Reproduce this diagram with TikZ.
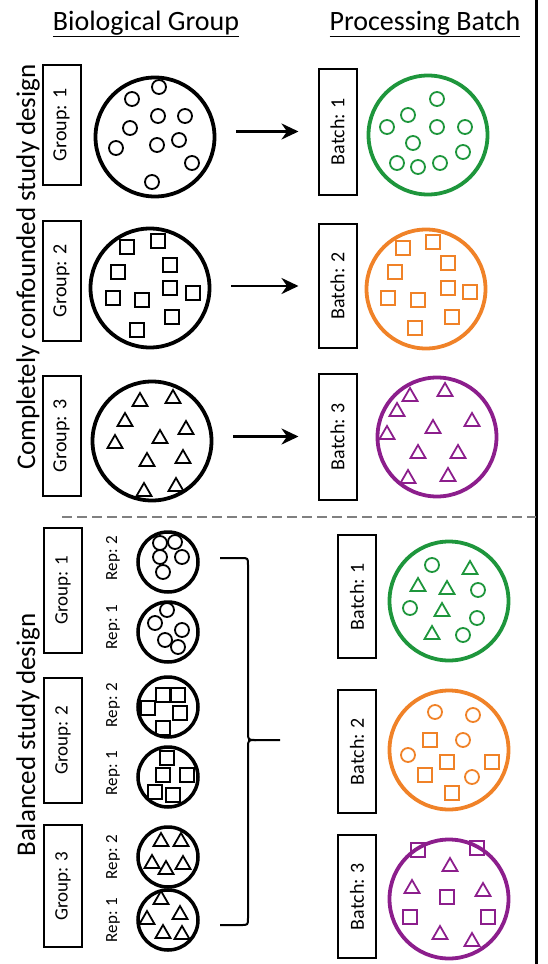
\documentclass[tikz,border=0pt]{standalone}
\usepackage{fontspec}
\setmainfont{Carlito}
\usetikzlibrary{arrows.meta}
\definecolor{dishgreen}{RGB}{30,150,60}
\definecolor{dishorange}{RGB}{240,130,40}
\definecolor{dishpurple}{RGB}{140,30,140}

\begin{document}
\begin{tikzpicture}[x=1pt,y=-1pt,>={Stealth[length=17pt,width=16pt]},
    labelbox/.style={draw,line width=2pt,rotate=90,inner sep=0pt,minimum height=38pt,font=\fontsize{20}{20}\selectfont},
    replabel/.style={rotate=90,inner sep=0pt,font=\fontsize{17}{17}\selectfont},
    bigdish/.style={draw,circle,line width=3.8pt,minimum size=119pt,inner sep=0pt},
    smalldish/.style={draw,circle,line width=3.5pt,minimum size=60pt,inner sep=0pt},
    item/.style={line width=1.8pt}]
    \useasboundingbox (0,0) rectangle (548,964);
    \draw[line width=3pt] (536,0) -- (536,964);
    \node[font=\fontsize{28}{28}\selectfont] (biotitle) at (146,24) {\underline{Biological Group}};
    \node[font=\fontsize{28}{28}\selectfont] (proctitle) at (425,24) {\underline{Processing Batch}};
    \node[rotate=90,font=\fontsize{27}{27}\selectfont] (confdesign) at (28,267) {Completely confounded study design};
    \node[rotate=90,font=\fontsize{27}{27}\selectfont] (baldesign) at (28,735) {Balanced study design};

    \node[labelbox,minimum width=120pt] (G1) at (61.5,125) {Group: 1};
    \node[labelbox,minimum width=120pt] (G2) at (61.5,281) {Group: 2};
    \node[labelbox,minimum width=120pt] (G3) at (61.5,436) {Group: 3};
    \node[bigdish] (g1) at (155,137) {};
    \node[bigdish] (g2) at (150,288) {};
    \node[bigdish] (g3) at (152,441) {};
    \node[labelbox,minimum width=126pt] (B1) at (337.5,131.5) {Batch: 1};
    \node[labelbox,minimum width=124pt] (B2) at (337.5,286) {Batch: 2};
    \node[labelbox,minimum width=126pt] (B3) at (337.5,436.5) {Batch: 3};
    \node[bigdish,draw=dishgreen] (b1) at (428,135) {};
    \node[bigdish,draw=dishorange] (b2) at (426,289) {};
    \node[bigdish,draw=dishpurple] (b3) at (437,437) {};
    \draw[->,line width=2.8pt,shorten <=20pt,shorten >=19pt] (g1.east |- B1.north) -- (B1.north);
    \draw[->,line width=2.8pt,shorten <=20pt,shorten >=19pt] (g2.east |- B2.north) -- (B2.north);
    \draw[->,line width=2.8pt,shorten <=20pt,shorten >=19pt] (g3.east |- B3.north) -- (B3.north);

    \foreach \x/\y in {159/87,132/99,158/116,185/116,130/128,179/140,157/145,116/148,192/163,152/182}
        \draw[item] (\x,\y) circle (7pt);
    \foreach \x/\y in {127/247,158/241,118/272,170/265,170/288,193/293,113/298,142/300,172/317,137/330}
        \draw[item] (\x-7,\y-7) rectangle ++(14,14);
    \foreach \x/\y in {140/400,173/397,125/420,186/428,115/442,160/437,183/457,147/460,144/490,176/485}
        \draw[item] (\x,\y-7) -- (\x+7.5,\y+6) -- (\x-7.5,\y+6) -- cycle;
    \foreach \x/\y in {437/99,408/115,437/127,465/127,387/127,413/143,397/163,418/167,440/163,463/152}
        \draw[item,dishgreen] (\x,\y) circle (7pt);
    \foreach \x/\y in {403/248,433/242,395/272,448/263,448/288,470/292,388/298,418/300,452/317,415/328}
        \draw[item,dishorange] (\x-7,\y-7) rectangle ++(14,14);
    \foreach \x/\y in {410/395,445/390,397/410,472/420,387/433,433/427,418/452,458/452,408/477,448/475}
        \draw[item,dishpurple] (\x,\y-7) -- (\x+7.5,\y+6) -- (\x-7.5,\y+6) -- cycle;

    \draw[gray,line width=2pt,dash pattern=on 10pt off 5pt] (62,517) -- (536,517);

    \node[labelbox,minimum width=125pt,font=\fontsize{19}{19}\selectfont] (H1) at (63,590.5) {Group: 1};
    \node[labelbox,minimum width=125pt,font=\fontsize{19}{19}\selectfont] (H2) at (63,740.5) {Group: 2};
    \node[labelbox,minimum width=122pt,font=\fontsize{19}{19}\selectfont] (H3) at (63,886) {Group: 3};
    \node[replabel] (rep12) at (113,558) {Rep: 2};
    \node[replabel] (rep11) at (113,627) {Rep: 1};
    \node[replabel] (rep22) at (113,705) {Rep: 2};
    \node[replabel] (rep21) at (113,773) {Rep: 1};
    \node[replabel] (rep32) at (113,857) {Rep: 2};
    \node[replabel] (rep31) at (113,920) {Rep: 1};
    \node[smalldish] (s12) at (168,562) {};
    \node[smalldish] (s11) at (168,632) {};
    \node[smalldish] (s22) at (168,707) {};
    \node[smalldish] (s21) at (168,777) {};
    \node[smalldish] (s32) at (168,857) {};
    \node[smalldish] (s31) at (168,920) {};
    \foreach \x/\y in {160/543,175/542,160/557,182/557,163/572,167/610,155/623,182/630,165/640,178/647}
        \draw[item] (\x,\y) circle (7pt);
    \foreach \x/\y in {163/695,178/695,148/708,180/713,163/728,167/758,163/775,187/775,155/792,173/795}
        \draw[item] (\x-7,\y-7) rectangle ++(14,14);
    \foreach \x/\y in {161/840,181/840,152/862,166/868,183/863,161/898,147/918,180/913,163/932,182/933}
        \draw[item] (\x,\y-7) -- (\x+7.5,\y+6) -- (\x-7.5,\y+6) -- cycle;

    \coordinate (brtop) at (220,558);
    \coordinate (brbot) at (220,925);
    \coordinate (brtip) at (280,740);
    \draw[line width=2pt] (brtop) -- (241,558) .. controls (248,558) .. (248,565) -- (248,732)
        .. controls (248,740) .. (256,740) -- (brtip);
    \draw[line width=2pt] (brbot) -- (241,925) .. controls (248,925) .. (248,918) -- (248,748)
        .. controls (248,740) .. (256,740);

    \node[labelbox,minimum width=123pt] (C1) at (357,596.5) {Batch: 1};
    \node[labelbox,minimum width=123pt] (C2) at (357,751.5) {Batch: 2};
    \node[labelbox,minimum width=123pt] (C3) at (357,896.5) {Batch: 3};
    \node[bigdish,draw=dishgreen] (c1) at (449,601) {};
    \node[bigdish,draw=dishorange] (c2) at (449,750) {};
    \node[bigdish,draw=dishpurple] (c3) at (449,899) {};
    \foreach \x/\y in {432/565,478/590,410/608,477/618,463/635}
        \draw[item,dishgreen] (\x,\y) circle (7pt);
    \foreach \x/\y in {470/568,418/585,447/588,442/610,432/633}
        \draw[item,dishgreen] (\x,\y-7) -- (\x+7.5,\y+6) -- (\x-7.5,\y+6) -- cycle;
    \foreach \x/\y in {435/712,473/715,463/740,408/755,472/777}
        \draw[item,dishorange] (\x,\y) circle (7pt);
    \foreach \x/\y in {430/740,447/762,492/762,425/775,452/793}
        \draw[item,dishorange] (\x-7,\y-7) rectangle ++(14,14);
    \foreach \x/\y in {418/850,477/848,447/897,410/917,488/917}
        \draw[item,dishpurple] (\x-7,\y-7) rectangle ++(14,14);
    \foreach \x/\y in {450/865,412/887,483/890,440/933,472/940}
        \draw[item,dishpurple] (\x,\y-7) -- (\x+7.5,\y+6) -- (\x-7.5,\y+6) -- cycle;
\end{tikzpicture}
\end{document}
